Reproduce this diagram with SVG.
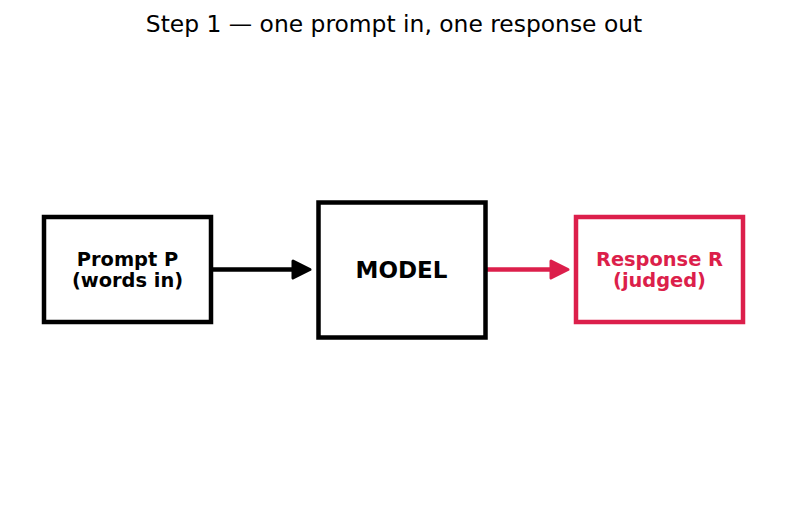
<svg xmlns="http://www.w3.org/2000/svg" width="787" height="510" viewBox="0 0 787 510">
<style>
text{font-family:"DejaVu Sans","Liberation Sans",sans-serif;text-anchor:middle}
.box{fill:#fff;stroke:#000;stroke-width:4.5}
.red{stroke:#DC1F4B}
.lbl{font-weight:bold;font-size:19.4px;fill:#000}
.rl{fill:#DC1F4B}
.big{font-size:23px}
.title{font-size:23.4px;fill:#000}
.head{stroke-width:3;stroke-linejoin:round}
</style>
<rect width="787" height="510" fill="#fff"/>
<text class="title" x="394" y="32">Step 1 — one prompt in, one response out</text>
<g id="connectors">
<line x1="213" y1="269.5" x2="296" y2="269.5" stroke="#000" stroke-width="4.5"/>
<polygon class="head" points="293,261 310,269.5 293,278" fill="#000" stroke="#000"/>
<line x1="487" y1="269.5" x2="554" y2="269.5" stroke="#DC1F4B" stroke-width="4.5"/>
<polygon class="head" points="551,261 568,269.5 551,278" fill="#DC1F4B" stroke="#DC1F4B"/>
</g>
<g id="prompt">
<rect class="box" x="44" y="217" width="167" height="105"/>
<text class="lbl" x="127.5" y="266">Prompt P</text>
<text class="lbl" x="127.5" y="287">(words in)</text>
</g>
<g id="model">
<rect class="box" x="318.5" y="202.5" width="167" height="135"/>
<text class="lbl big" x="401.5" y="277.5">MODEL</text>
</g>
<g id="response">
<rect class="box red" x="576" y="217" width="167" height="105"/>
<text class="lbl rl" x="659.5" y="266">Response R</text>
<text class="lbl rl" x="659.5" y="287">(judged)</text>
</g>
</svg>
